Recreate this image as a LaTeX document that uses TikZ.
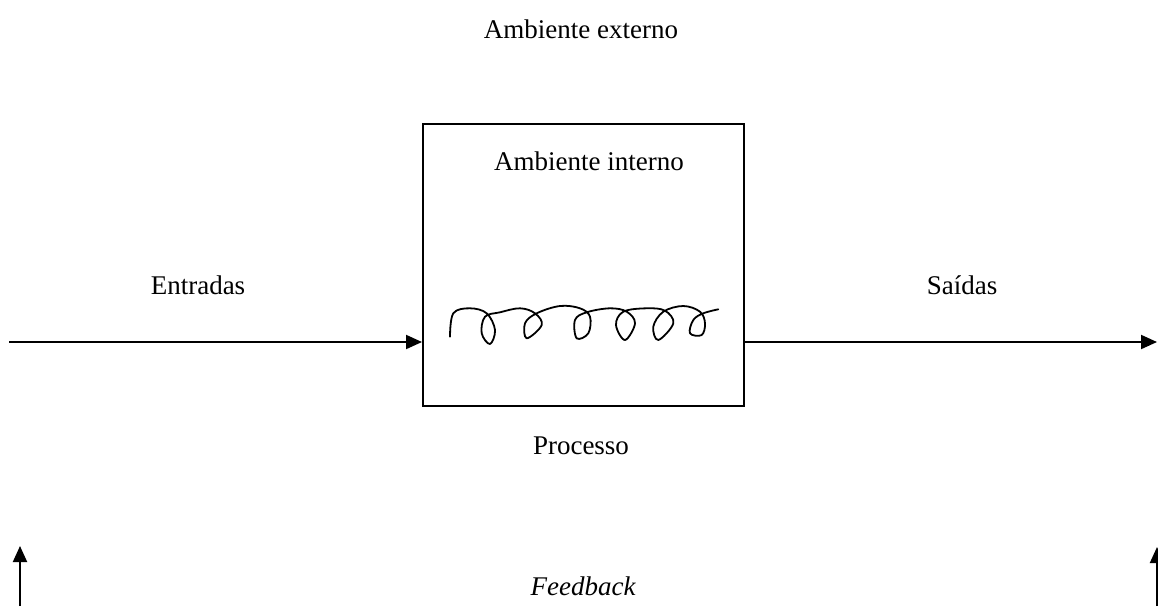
\documentclass[tikz,border=0pt]{standalone}
\usepackage{fontspec}
\setmainfont{Liberation Serif}
\usetikzlibrary{arrows.meta}
\begin{document}
\begin{tikzpicture}[x=1pt,y=-1pt,
  every node/.style={font=\fontsize{27}{32}\selectfont, inner sep=0pt},
  conn/.style={line width=2pt, -{Triangle[length=16pt,width=14pt]}},
  sysbox/.style={draw, line width=2pt, minimum width=321pt, minimum height=282pt},
  lbl/.style={anchor=center}]
\useasboundingbox (0,0) rectangle (1158,606);
\node[sysbox] (box) at (583.5,265) {};
\node[lbl] (ext) at (581,29) {Ambiente externo};
\node[lbl] (int) at (589,161) {Ambiente interno};
\node[lbl] (ent) at (198,285) {Entradas};
\node[lbl] (sai) at (962,285) {Saídas};
\node[lbl] (proc) at (581,446) {Processo};
\node[lbl] (fb) at (583,586) {\itshape Feedback};
\coordinate (inL) at (9,342);
\coordinate (outR) at (1157,342);
\coordinate (fbL0) at (20,606);
\coordinate (fbL1) at (20,546);
\coordinate (fbR0) at (1157,606);
\coordinate (fbR1) at (1157,547);
\draw[conn] (inL) -- (inL -| box.west);
\draw[conn] (outR -| box.east) -- (outR);
\draw[conn] (fbL0) -- (fbL1);
\draw[conn] (fbR0) -- (fbR1);
\draw[line width=1.8pt, line join=round, line cap=round] plot[smooth, tension=0.6] coordinates {
(450,336.7) (453.3,313.3) (470,308.3) (486.7,313.3) (495,330) (490,344) (481.7,333.3) (485,316.7)
(500,312.3) (520,308.3) (535,313.3) (541.7,325) (526.7,338.3) (525,323.3) (536.7,313.3)
(560,306) (580,308.3) (590,316.7) (588.3,333.3) (576.7,338.3) (575,320) (586.7,312.3)
(610,308.3) (626.7,311.7) (635,323.3) (625,340) (616,325) (623.3,311.7)
(646.7,308.3) (665,310.7) (673.3,323.3) (658.3,340) (653.3,326.7) (663.3,311.7)
(683.3,306) (700,311.7) (705,323.3) (701.7,335) (690,333.3) (693.3,320) (703.3,313.3) (718.3,309.3)};
\end{tikzpicture}
\end{document}
